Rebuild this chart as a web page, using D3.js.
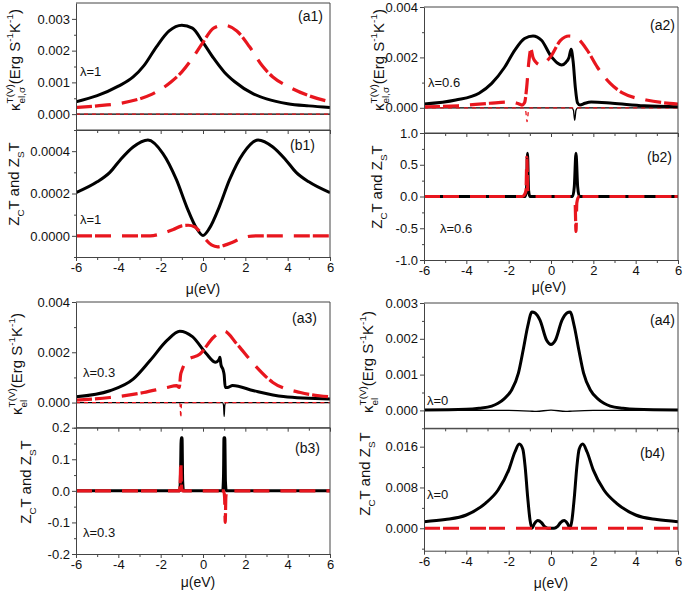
<!DOCTYPE html>
<html><head><meta charset="utf-8">
<script src="https://cdn.jsdelivr.net/npm/d3@7"></script>
<style>
body{margin:0;background:#fff}
svg{display:block}
text{font-family:Arial,'Liberation Sans',sans-serif;fill:#111}
</style>
</head><body><svg id="c" width="685" height="595"></svg>
<script>
// ---------------- DATA (μ in eV) ----------------
const muTicks = [-6,-4,-2,0,2,4,6];
const muMinor = [-5,-3,-1,1,3,5];

// (a1) λ=1
const a1Black = [[-6,0.00039],[-5,0.00058],[-4,0.00088],[-3.3,0.00117],[-2.8,0.00152],[-2.2,0.00212],[-1.6,0.00262],[-1.0,0.0028],[-0.5,0.00271],[0,0.00226],[0.5,0.00176],[1.0,0.00133],[1.5,0.00102],[2.4,0.00063],[3.0,0.00048],[4,0.00033],[5,0.00026],[6,0.00021]];
const a1Red   = [[-6,0.00021],[-5,0.00026],[-4,0.00033],[-3,0.00048],[-2.4,0.00063],[-1.5,0.00102],[-1,0.00133],[-0.5,0.00176],[0,0.00226],[0.5,0.00271],[1,0.0028],[1.6,0.00262],[2.2,0.00212],[2.8,0.00152],[3.3,0.00117],[4,0.00088],[5,0.00058],[6,0.00039]];
const a1BlackThin = [[-6,0],[6,0]];
const a1RedThin   = [[-6,0],[6,0]];
// (b1) λ=1
const b1Black = [[-6,0.000204],[-5,0.000255],[-4.4,0.0003],[-3.9,0.00036],[-3.3,0.00042],[-2.6,0.000453],[-1.9,0.00039],[-1.25,0.000264],[-0.77,0.000137],[-0.3,0.000035],[0,0.000002],[0.3,0.000035],[0.77,0.000137],[1.25,0.000264],[1.9,0.00039],[2.6,0.000453],[3.3,0.00042],[3.9,0.00036],[4.4,0.0003],[5,0.000255],[6,0.000204]];
const b1Red   = [[-6,0],[-2.5,0],[-1.9,0.000012],[-1.4,0.00003],[-1.0,0.000047],[-0.7,0.00005],[-0.4,0.000043],[-0.15,0.00002],[0,0],[0.15,-0.00002],[0.4,-0.000043],[0.7,-0.000052],[1.0,-0.000045],[1.4,-0.00003],[1.9,-0.000008],[2.5,0],[6,0]];
// (a2) λ=0.6
const a2Black = [[-6,0.00015],[-4.5,0.00031],[-3.4,0.00058],[-2.8,0.00097],[-2.2,0.0016],[-1.7,0.0023],[-1.25,0.00275],[-0.85,0.00285],[-0.45,0.00268],[0,0.00205],[0.3,0.00178],[0.5,0.0017],[0.7,0.0018],[0.85,0.002],[0.95,0.00232],[1.05,0.0018],[1.15,0.0008],[1.25,0.0002],[1.37,0.00011],[1.6,0.00018],[1.9,0.00023],[2.9,0.00018],[4.4,0.00008],[6,0.00004]];
const a2Red   = [[-6,0.00004],[-4.4,0.00008],[-2.9,0.00018],[-1.9,0.00023],[-1.6,0.00018],[-1.37,0.00011],[-1.25,0.0002],[-1.15,0.0008],[-1.05,0.0018],[-0.95,0.00232],[-0.85,0.002],[-0.7,0.0018],[-0.5,0.0017],[-0.3,0.00178],[0,0.00205],[0.45,0.00268],[0.85,0.00285],[1.25,0.00275],[1.7,0.0023],[2.2,0.0016],[2.8,0.00097],[3.4,0.00058],[4.5,0.00031],[6,0.00015]];
const a2BlackThin = [[-6,0],[0.98,0],[1.06,-0.0001],[1.12,-0.0005],[1.18,-0.0001],[1.26,0],[6,0]];
const a2RedThin   = [[-6,0],[-1.28,0],[-1.2,-0.0001],[-1.13,-0.00055],[-1.06,-0.0001],[-0.98,0],[6,0]];
// (b2) λ=0.6
const b2Black = [[-6,0],[-1.22,0],[-1.16,0.1],[-1.11,0.68],[-1.06,0.1],[-1.0,0],[1.02,0],[1.1,0.15],[1.18,0.68],[1.26,0.15],[1.34,0],[6,0]];
const b2Red   = [[-6,0],[-1.35,0],[-1.25,0.03],[-1.18,0.1],[-1.14,0.62],[-1.1,0.1],[-1.04,0.05],[-0.95,0],[1.0,0],[1.08,-0.04],[1.14,-0.1],[1.18,-0.55],[1.22,-0.1],[1.28,-0.02],[1.35,0],[6,0]];
// (a3) λ=0.3
const a3Black = [[-6,0.00023],[-4.4,0.00047],[-3.3,0.00093],[-2.5,0.00167],[-1.7,0.00247],[-1.1,0.00284],[-0.5,0.00262],[0.15,0.00195],[0.6,0.0016],[0.75,0.0017],[0.8,0.0018],[0.85,0.0015],[0.95,0.0013],[1.0,0.0011],[1.05,0.0006],[1.15,0.0006],[1.4,0.00068],[2.4,0.00047],[3.8,0.00024],[6,0.00014]];
const a3Red   = [[-6,0.0001],[-4.4,0.0002],[-2.8,0.0004],[-1.7,0.0006],[-1.25,0.00067],[-1.12,0.0006],[-1.06,0.0011],[-1.0,0.00127],[-0.77,0.00167],[-0.14,0.00193],[0.5,0.0026],[1.0,0.00284],[1.6,0.00233],[2.4,0.00153],[3.3,0.0008],[4.6,0.0004],[5.5,0.00027],[6,0.00023]];
const a3BlackThin = [[-6,0],[0.92,0],[0.97,-0.0001],[1.0,-0.00055],[1.03,-0.0001],[1.08,0],[6,0]];
const a3RedThin   = [[-6,0],[-1.12,0],[-1.08,-0.0001],[-1.05,-0.0006],[-1.02,-0.0001],[-0.98,0],[6,0]];
// (b3) λ=0.3
const b3Black = [[-6,0],[-1.1,0],[-1.06,0.06],[-1.03,0.168],[-0.99,0.168],[-0.96,0.03],[-0.92,0],[0.93,0],[0.97,0.05],[0.99,0.168],[1.03,0.168],[1.06,0.03],[1.1,0],[6,0]];
const b3Red   = [[-6,0],[-1.12,0],[-1.08,0.02],[-1.05,0.095],[-1.02,0.02],[-0.98,0],[0.98,0],[1.02,-0.02],[1.05,-0.1],[1.08,-0.02],[1.12,0],[6,0]];
// (a4) λ=0
const a4Black = [[-6,0.00001],[-4,0.00003],[-3.4,0.00006],[-2.8,0.00012],[-2.5,0.0002],[-2.2,0.00033],[-1.86,0.00057],[-1.54,0.00104],[-1.31,0.0017],[-1.1,0.00235],[-0.9,0.00275],[-0.75,0.00272],[-0.52,0.00252],[-0.2,0.00195],[0,0.00184],[0.2,0.00195],[0.52,0.00252],[0.75,0.00272],[0.9,0.00275],[1.1,0.00235],[1.31,0.0017],[1.54,0.00104],[1.86,0.00057],[2.2,0.00033],[2.5,0.0002],[2.8,0.00012],[3.4,0.00006],[4,0.00003],[6,0.00001]];
const a4BlackThin = [[-6,0],[-2,0],[-1,-0.00002],[-0.7,-0.00003],[0,0.00001],[0.7,-0.00003],[1,-0.00002],[2,0],[6,0]];
// (b4) λ=0
const b4Black = [[-6,0.0013],[-5,0.0017],[-4,0.0026],[-3.1,0.0049],[-2.5,0.0075],[-2.0,0.0114],[-1.7,0.015],[-1.5,0.0165],[-1.33,0.0155],[-1.22,0.012],[-1.1,0.006],[-0.99,0.0016],[-0.9,0],[-0.78,0.0009],[-0.62,0.0015],[-0.45,0.0011],[-0.3,0.0003],[-0.15,0],[0.15,0],[0.3,0.0003],[0.45,0.0011],[0.62,0.0015],[0.78,0.0009],[0.9,0],[0.99,0.0016],[1.1,0.006],[1.22,0.012],[1.33,0.0155],[1.5,0.0165],[1.7,0.015],[2.0,0.0114],[2.5,0.0075],[3.1,0.0049],[4,0.0026],[5,0.0017],[6,0.0013]];
const b4Red   = [[-6,0],[6,0]];

// y tick values
const a1Ticks=[0,0.001,0.002,0.003], a1Minor=[-0.0005,0.0005,0.0015,0.0025];
const b1Ticks=[0,0.0002,0.0004], b1Minor=[-0.0001,0.0001,0.0003,0.0005];
const a2Ticks=[0,0.002,0.004], a2Minor=[-0.001,0.001,0.003];
const b2Ticks=[-1,-0.5,0,0.5,1], b2Minor=[-0.75,-0.25,0.25,0.75];
const a3Ticks=[0,0.002,0.004], a3Minor=[-0.001,0.001,0.003];
const b3Ticks=[-0.2,-0.1,0,0.1,0.2], b3Minor=[-0.15,-0.05,0.05,0.15];
const a4Ticks=[0,0.001,0.002,0.003], a4Minor=[-0.0005,0.0005,0.0015,0.0025];
const b4Ticks=[0,0.008,0.016], b4Minor=[-0.004,0.004,0.012];

const panelNames = ['(a1)','(b1)','(a2)','(b2)','(a3)','(b3)','(a4)','(b4)'];
const lambdas = ['λ=1','λ=1','λ=0.6','λ=0.6','λ=0.3','λ=0.3','λ=0','λ=0'];
const xTitle = 'μ(eV)';

// ---------------- LAYOUT ----------------
const RED = '#e8161e';
const AX = '#444';
const svg = d3.select('#c');

const kappaSig = [{t:'κ',k:'n'},{t:'el,σ',k:'sub',stack:true},{t:'T(V)',k:'sup'},{t:'(Erg S',k:'n'},{t:'-1',k:'sup'},{t:'K',k:'n'},{t:'-1',k:'sup'},{t:')',k:'n'}];
const kappaEl  = [{t:'κ',k:'n'},{t:'el',k:'sub',stack:true},{t:'T(V)',k:'sup'},{t:'(Erg S',k:'n'},{t:'-1',k:'sup'},{t:'K',k:'n'},{t:'-1',k:'sup'},{t:')',k:'n'}];
const zTitle   = [{t:'Z',k:'n'},{t:'C',k:'sub'},{t:'T and Z',k:'n'},{t:'S',k:'sub'},{t:'T',k:'n'}];

const fmtF = n => (d => d3.format('.'+n+'f')(d).replace('−','-'));

const panels = [
 {i:0,x0:76,x1:330,yTop:3,yBot:130,dom:[-0.0005,0.0035],ticks:a1Ticks,minor:a1Minor,fmt:fmtF(3),showX:false,
  title:kappaSig,tx:20,ty:60,lbl:[323,21],lam:[80,76],
  thick:[a1Black],dashed:[a1Red],thinB:[a1BlackThin],thinR:[a1RedThin]},
 {i:1,x0:76,x1:330,yTop:130,yBot:257,dom:[-0.0001,0.0005],ticks:b1Ticks,minor:b1Minor,fmt:fmtF(4),showX:true,xt:[203,294],
  title:zTitle,tx:19,ty:184,lbl:[315,150],lam:[80,224],
  thick:[b1Black],dashed:[b1Red],thinB:[],thinR:[]},
 {i:2,x0:424,x1:678,yTop:7,yBot:133,dom:[-0.001,0.004],ticks:a2Ticks,minor:a2Minor,fmt:fmtF(3),showX:false,
  title:kappaSig,tx:384,ty:60,lbl:[675,30],lam:[428,87],
  thick:[a2Black],dashed:[a2Red],thinB:[a2BlackThin],thinR:[a2RedThin]},
 {i:3,x0:424,x1:678,yTop:133,yBot:260,dom:[-1,1],ticks:b2Ticks,minor:b2Minor,fmt:fmtF(1),showX:true,xt:[549,292],
  title:zTitle,tx:382,ty:187,lbl:[672,162],lam:[440,233],
  thick:[b2Black],dashed:[b2Red],thinB:[],thinR:[]},
 {i:4,x0:76,x1:330,yTop:302,yBot:427.7,dom:[-0.001,0.004],ticks:a3Ticks,minor:a3Minor,fmt:fmtF(3),showX:false,
  title:kappaEl,tx:22,ty:364,lbl:[317,323],lam:[83,377],
  thick:[a3Black],dashed:[a3Red],thinB:[a3BlackThin],thinR:[a3RedThin]},
 {i:5,x0:76,x1:330,yTop:427.7,yBot:554,dom:[-0.2,0.2],ticks:b3Ticks,minor:b3Minor,fmt:fmtF(1),showX:true,xt:[198,587],
  title:zTitle,tx:31,ty:482,lbl:[320,453],lam:[83,537],
  thick:[b3Black],dashed:[b3Red],thinB:[],thinR:[]},
 {i:6,x0:424,x1:678,yTop:303,yBot:428.3,dom:[-0.0005,0.003],ticks:a4Ticks,minor:a4Minor,fmt:fmtF(3),showX:false,
  title:kappaEl,tx:373,ty:362,lbl:[675,325],lam:[427,405],
  thick:[a4Black],dashed:[],thinB:[a4BlackThin],thinR:[]},
 {i:7,x0:424,x1:678,yTop:428.3,yBot:550.7,dom:[-0.0044,0.0196],ticks:b4Ticks,minor:b4Minor,fmt:fmtF(3),showX:true,xt:[551,588],
  title:zTitle,tx:370,ty:474,lbl:[665,458],lam:[427,499],
  thick:[b4Black],dashed:[b4Red],thinB:[],thinR:[]}
];

function richLabel(cx, cy, segs, fs){
  const g = svg.append('g').attr('transform',`translate(${cx},${cy}) rotate(-90)`);
  let xPos = 0, stackStart = null, stackW = 0;
  const els = [];
  segs.forEach(s=>{
    const size = s.k==='n' ? fs : fs*0.66;
    const dy = s.k==='sub' ? fs*0.3 : (s.k==='sup' ? -fs*0.45 : 0);
    const t = g.append('text').attr('x',xPos).attr('y',dy).attr('font-size',size).text(s.t);
    const w = t.node().getComputedTextLength();
    els.push(t);
    if (s.stack){ stackStart = xPos; stackW = w; }
    else if (stackStart !== null){ xPos = stackStart + Math.max(stackW,w); stackStart = null; }
    else xPos += w;
  });
  els.forEach(e=>e.attr('x', +e.attr('x') - xPos/2));
}

panels.forEach(p=>{
  const x = d3.scaleLinear().domain([-6,6]).range([p.x0,p.x1]);
  const y = d3.scaleLinear().domain(p.dom).range([p.yBot,p.yTop]);
  const clipId = 'clip'+p.i;
  svg.append('clipPath').attr('id',clipId).append('rect')
    .attr('x',p.x0).attr('y',p.yTop).attr('width',p.x1-p.x0).attr('height',p.yBot-p.yTop);

  const line = d3.line().x(d=>x(d[0])).y(d=>y(d[1])).curve(d3.curveMonotoneX);
  const plot = svg.append('g').attr('clip-path',`url(#${clipId})`);
  p.thinB.forEach(s=>plot.append('path').attr('d',line(s)).attr('fill','none').attr('stroke','#000').attr('stroke-width',1.3));
  p.thinR.forEach(s=>plot.append('path').attr('d',line(s)).attr('fill','none').attr('stroke',RED).attr('stroke-width',1.3).attr('stroke-dasharray','4,4'));
  p.thick.forEach(s=>plot.append('path').attr('d',line(s)).attr('fill','none').attr('stroke','#000').attr('stroke-width',3).attr('stroke-linejoin','round'));
  p.dashed.forEach(s=>plot.append('path').attr('d',line(s)).attr('fill','none').attr('stroke',RED).attr('stroke-width',3.2).attr('stroke-dasharray','16,3,16,11'));

  // frame top + right
  svg.append('line').attr('x1',p.x0).attr('x2',p.x1).attr('y1',p.yTop).attr('y2',p.yTop).attr('stroke',AX).attr('stroke-width',1);
  svg.append('line').attr('x1',p.x1).attr('x2',p.x1).attr('y1',p.yTop).attr('y2',p.yBot).attr('stroke',AX).attr('stroke-width',1);

  // y axis
  const gy = svg.append('g').attr('transform',`translate(${p.x0},0)`)
    .call(d3.axisLeft(y).tickValues(p.ticks).tickFormat(p.fmt).tickSize(4).tickPadding(2).tickSizeOuter(0));
  const gym = svg.append('g').attr('transform',`translate(${p.x0},0)`)
    .call(d3.axisLeft(y).tickValues(p.minor.filter(v=>v>=p.dom[0]&&v<=p.dom[1])).tickFormat('').tickSize(2).tickSizeOuter(0));
  gym.select('.domain').remove();
  // x axis
  const gx = svg.append('g').attr('transform',`translate(0,${p.yBot})`)
    .call(d3.axisBottom(x).tickValues(muTicks).tickFormat(p.showX ? (d=>String(d)) : '').tickSize(4).tickPadding(2).tickSizeOuter(0));
  const gxm = svg.append('g').attr('transform',`translate(0,${p.yBot})`)
    .call(d3.axisBottom(x).tickValues(muMinor).tickFormat('').tickSize(3).tickSizeOuter(0));
  gxm.select('.domain').remove();
  [gy,gym,gx,gxm].forEach(g=>{
    g.selectAll('.domain').attr('stroke',AX);
    g.selectAll('.tick line').attr('stroke',AX);
    g.selectAll('.tick text').attr('font-size',13).attr('fill','#111').attr('font-family','Arial, Liberation Sans, sans-serif');
  });

  if (p.showX){
    svg.append('text').attr('x',p.xt[0]).attr('y',p.xt[1]).attr('text-anchor','middle').attr('font-size',14).text(xTitle);
  }
  // panel label
  svg.append('text').attr('x',p.lbl[0]).attr('y',p.lbl[1]).attr('text-anchor','end').attr('font-size',14).text(panelNames[p.i]);
  // lambda label
  svg.append('text').attr('x',p.lam[0]).attr('y',p.lam[1]).attr('font-size',13).text(lambdas[p.i]);
  // y title
  richLabel(p.tx, p.ty, p.title, 15);
});
</script></body></html>
